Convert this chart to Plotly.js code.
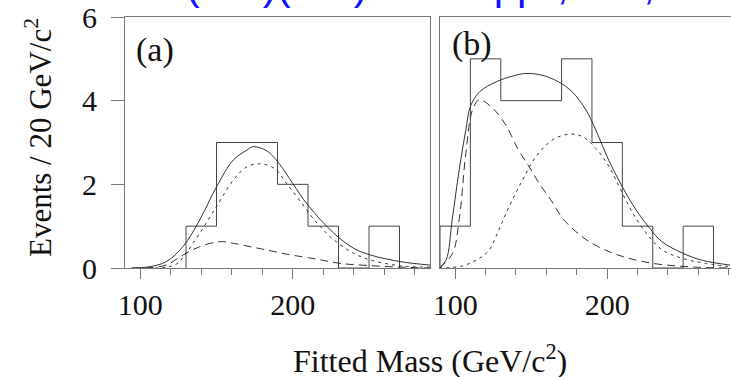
<!DOCTYPE html>
<html><head><meta charset="utf-8">
<script src="https://cdn.plot.ly/plotly-3.0.1.min.js"></script>
<style>html,body{margin:0;padding:0;background:#fff}</style>
</head><body>
<div id="chart" style="width:731px;height:377px"></div>
<script>
// Panel (a) histogram
const binEdgesA = [130,150,170,190,210,230,250,270];
const countsA   = [1,3,3,2,1,0,1];
// Panel (b) histogram
const binEdgesB = [90,110,130,150,170,190,210,230,250,270];
const countsB   = [1,5,4,4,5,3,1,0,1];

// Panel (a) fit curves
const aTotX = [94,106,117,128,139,150,161,170,174,183,191,200,210,227,240,251,271,290];
const aTotY = [0,0.03,0.15,0.51,1.15,1.94,2.58,2.82,2.9,2.8,2.5,2.02,1.5,0.83,0.47,0.31,0.15,0.07];
const aSigX = [105,117,124,130,139,150,161,170,179,188,196,205,216,227,240,251,271,290];
const aSigY = [0,0.02,0.1,0.35,0.83,1.47,2.1,2.42,2.49,2.38,2.02,1.59,1.07,0.67,0.35,0.19,0.05,0.02];
const aBkgX = [95,106,117,128,139,152,161,172,183,196,216,231,249,271,290];
const aBkgY = [0,0.01,0.07,0.31,0.51,0.63,0.59,0.51,0.43,0.33,0.21,0.11,0.06,0.02,0.0];

// Panel (b) fit curves
const bTotX = [89.5,94,98,102.6,107,110,116,127,138,146.5,157,168,177,186,192.5,201,210,219,228,236,250,263,281];
const bTotY = [0,0.19,1.15,2.34,3.3,3.86,4.21,4.45,4.59,4.65,4.61,4.45,4.21,3.78,3.3,2.58,1.94,1.39,0.95,0.63,0.35,0.18,0.07];
const bBkgX = [89.5,98.2,102.6,107,111.4,115.8,123.5,133.3,141,148.7,155.3,162.9,170.6,179.4,188.2,201.3,214.5,232,258.3,281];
const bBkgY = [0,0.35,1.15,2.74,3.78,4.02,3.86,3.42,2.86,2.42,2.02,1.63,1.19,0.87,0.63,0.39,0.23,0.1,0.02,0];
const bSigX = [89.5,104.8,115.8,122.4,126.8,135.5,144.3,153.1,164,175,183.8,192.5,201.3,210.1,218.9,227.6,236.4,249.6,264.9,280.9];
const bSigY = [0,0.05,0.23,0.43,0.75,1.47,2.1,2.66,3.06,3.2,3.14,2.86,2.42,1.78,1.19,0.75,0.43,0.23,0.11,0.03];

const xTickVals = [100,200];
const yTickVals = [0,2,4,6];

function stepOutline(edges, counts){
  const xs=[edges[0]], ys=[0];
  for(let i=0;i<counts.length;i++){
    xs.push(edges[i],edges[i+1]); ys.push(counts[i],counts[i]);
  }
  xs.push(edges[edges.length-1]); ys.push(0);
  return {xs,ys};
}
const hA = stepOutline(binEdgesA, countsA);
const hB = stepOutline(binEdgesB, countsB);

const curveCol = '#333';
const histCol = '#444';
function line(x,y,xa,ya,dash,col,shape){
  return {x:x,y:y,xaxis:xa,yaxis:ya,type:'scatter',mode:'lines',hoverinfo:'skip',
    line:{color:col||curveCol,width:1,dash:dash||'solid',shape:shape||'spline',smoothing:1}};
}
const traces = [
  line(hA.xs,hA.ys,'x','y','solid',histCol,'linear'),
  line(aBkgX,aBkgY,'x','y','8px,5px'),
  line(aSigX,aSigY,'x','y','3px,4px'),
  line(aTotX,aTotY,'x','y','solid'),
  line(hB.xs,hB.ys,'x2','y2','solid',histCol,'linear'),
  line(bBkgX,bBkgY,'x2','y2','8px,5px'),
  line(bSigX,bSigY,'x2','y2','3px,4px'),
  line(bTotX,bTotY,'x2','y2','solid'),
];

const W=731,H=377;
const frame='#777';
const serif='Liberation Serif';
const tickFont={family:serif,size:30,color:'#111'};
const yDom=[1-268/H, 1-17/H];
function xAxis(dom,range,anchor){
  return {domain:dom,range:range,anchor:anchor,showline:true,linecolor:frame,linewidth:1,mirror:true,
    showgrid:false,zeroline:false,tickmode:'array',tickvals:xTickVals,ticks:'outside',ticklen:10,
    tickcolor:frame,tickwidth:1,tickfont:tickFont,ticklabelstandoff:0,
    minor:{tickmode:'linear',tick0:100,dtick:20,ticks:'outside',ticklen:6,tickcolor:frame,tickwidth:1,showgrid:false}};
}
const layout = {
  width:W,height:H,margin:{l:0,r:0,t:0,b:0},paper_bgcolor:'#fff',plot_bgcolor:'#fff',showlegend:false,
  xaxis:xAxis([125/W,430/W],[90,290],'y'),
  xaxis2:xAxis([440/W,1],[90,281.5],'y2'),
  yaxis:{domain:yDom,range:[0,6],anchor:'x',showline:true,linecolor:frame,linewidth:1,mirror:true,
    showgrid:false,zeroline:false,tickmode:'array',tickvals:yTickVals,ticks:'outside',ticklen:13,
    tickcolor:frame,tickwidth:1,tickfont:tickFont,ticklabelstandoff:8},
  yaxis2:{domain:yDom,range:[0,6],anchor:'x2',showline:true,linecolor:frame,linewidth:1,mirror:false,
    showgrid:false,zeroline:false,showticklabels:false,ticks:''},
  annotations:[
    {text:'(a)',xref:'paper',yref:'paper',x:155/W,y:1-50/H,showarrow:false,xanchor:'center',yanchor:'middle',
      font:{family:serif,size:34,color:'#111'}},
    {text:'(b)',xref:'paper',yref:'paper',x:472/W,y:1-44/H,showarrow:false,xanchor:'center',yanchor:'middle',
      font:{family:serif,size:34,color:'#111'}},
    {text:'Events / 20 GeV/c<sup>2</sup>',xref:'paper',yref:'paper',x:38/W,y:1-138/H,showarrow:false,
      textangle:-90,xanchor:'center',yanchor:'middle',font:{family:serif,size:31,color:'#111'}},
    {text:'Fitted Mass (GeV/c<sup>2</sup>)',xref:'paper',yref:'paper',x:430/W,y:1-359/H,showarrow:false,
      xanchor:'center',yanchor:'middle',font:{family:serif,size:32,color:'#111'}},
    {text:'tt → (Wb)(Wb) → bbqqlν, DØ, 1',xref:'paper',yref:'paper',x:95/W,y:1-10/H,showarrow:false,
      xanchor:'left',yanchor:'bottom',font:{family:'Liberation Sans',size:42,color:'#1010ff'}}
  ]
};
Plotly.newPlot('chart',traces,layout,{displayModeBar:false,staticPlot:true});
</script>
</body></html>
